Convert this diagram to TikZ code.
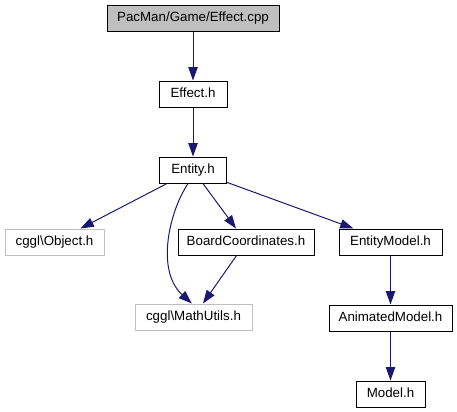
\documentclass[tikz,border=0pt]{standalone}
\usepackage{fontspec}
\setmainfont{Liberation Sans}
\usetikzlibrary{arrows.meta, positioning}
\definecolor{rootgray}{HTML}{BFBFBF}
\definecolor{missgray}{HTML}{BFBFBF}
\definecolor{edgeblue}{HTML}{191970}

\begin{document}
\begin{tikzpicture}[x=0.75pt, y=0.75pt, font=\fontsize{10}{12}\selectfont, node distance=36.75pt]
  % Styles
  \tikzset{
    file/.style={draw=black, fill=white, line width=0.75pt, minimum height=19.5pt, inner xsep=3pt, inner ysep=0pt, text height=7.3pt, text depth=2.1pt},
    root/.style={file, fill=rootgray},
    missing/.style={file, draw=missgray},
    edge/.style={-{Triangle[length=10pt,width=7pt]}, draw=edgeblue, line width=0.75pt}
  }
  \useasboundingbox (0,0) rectangle (457,-411);

  % Nodes
  \node[root, minimum width=129pt] (cpp) at (193,-18) {PacMan/Game/Effect.cpp};
  \node[file, minimum width=51pt, below=of cpp] (effect) {Effect.h};
  \node[file, minimum width=50.25pt, below=of effect] (entity) {Entity.h};

  \node[missing, minimum width=74.25pt] (object) at (54.5,-242) {cggl\textbackslash Object.h};
  \node[file, minimum width=102pt] (board) at (246,-242) {BoardCoordinates.h};
  \node[file, minimum width=77.25pt] (entitymodel) at (390.5,-242) {EntityModel.h};
  \node[missing, minimum width=87.75pt] (mathutils) at (193.5,-317) {cggl\textbackslash MathUtils.h};

  \node[file, minimum width=92.25pt, below=of entitymodel] (animated) {AnimatedModel.h};
  \node[file, minimum width=51.75pt, below=of animated] (model) {Model.h};

  % Arrows
  \draw[edge] (cpp) -- (effect);
  \draw[edge] (effect) -- (entity);
  \draw[edge] (entity) -- (object);
  \draw[edge] (entity.250) .. controls (170,-210) and (155,-270) .. (mathutils.97);
  \draw[edge] (entity) -- (board);
  \draw[edge] (entity) -- (entitymodel);
  \draw[edge] (board) -- (mathutils);
  \draw[edge] (entitymodel) -- (animated);
  \draw[edge] (animated) -- (model);

\end{tikzpicture}
\end{document}
